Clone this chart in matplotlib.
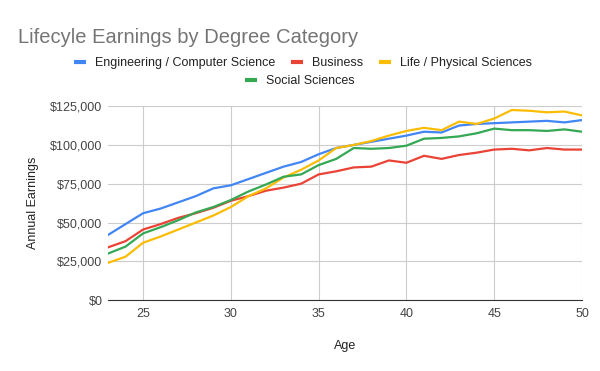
import matplotlib
matplotlib.use("Agg")
import matplotlib.pyplot as plt
from matplotlib.ticker import FuncFormatter
from matplotlib.lines import Line2D

plt.rcParams['font.family'] = ['Liberation Sans', 'DejaVu Sans']

ages = list(range(23, 51))
engineering = [42000, 49000, 56000, 59000, 63000, 67000, 72000, 74000, 78000, 82000,
               86000, 89000, 94000, 98000, 100000, 102000, 104000, 106000, 108500, 108000,
               112500, 113500, 114000, 114500, 115000, 115500, 114500, 116000]
business = [34000, 38000, 45500, 49000, 53000, 56000, 59500, 64000, 67000, 70500,
            72500, 75000, 81000, 83000, 85500, 86000, 90000, 88500, 93000, 91000,
            93500, 95000, 97000, 97500, 96500, 98000, 97000, 97000]
life_phys = [24000, 28000, 37000, 41000, 45500, 50000, 54500, 60000, 67000, 72000,
             79000, 84000, 90000, 98000, 100000, 102500, 106000, 109000, 111000, 109500,
             115000, 113500, 117000, 122500, 122000, 121000, 121500, 119000]
social = [30000, 34500, 43000, 47000, 51500, 56500, 60000, 64500, 70000, 74500,
          79500, 81000, 87000, 91000, 98000, 97500, 98000, 99500, 104000, 104500,
          105500, 107500, 110500, 109500, 109500, 109000, 110000, 108500]

series_names = ["Engineering / Computer Science", "Business", "Life / Physical Sciences", "Social Sciences"]
series_vals = [engineering, business, life_phys, social]
colors = ["#4285F4", "#EA4335", "#FBBC04", "#34A853"]
x_ticks = [25, 30, 35, 40, 45, 50]
y_ticks = [0, 25000, 50000, 75000, 100000, 125000]

fig = plt.figure(figsize=(6, 3.71), dpi=100)
ax = fig.add_axes([0.18, 0.191, 0.79, 0.523])

for name, vals, c in zip(series_names, series_vals, colors):
    ax.plot(ages, vals, color=c, lw=1.6, label=name, solid_joinstyle='round')

ax.set_xlim(23, 50)
ax.set_ylim(0, 125000)
ax.set_xticks(x_ticks)
ax.set_yticks(y_ticks)
ax.yaxis.set_major_formatter(FuncFormatter(lambda v, p: "${:,.0f}".format(v)))
ax.grid(True, color="#cccccc", lw=0.8)
ax.set_axisbelow(True)
for s in ["top", "right", "left"]:
    ax.spines[s].set_visible(False)
ax.spines["bottom"].set_color("#333333")
ax.tick_params(axis="y", length=0, labelsize=9, colors="#444444", pad=4.0)
ax.tick_params(axis="x", length=0, labelsize=9, colors="#444444", pad=6)
ax.set_xlabel("Age", fontsize=9, color="#222222", labelpad=14)
ax.set_ylabel("Annual Earnings", fontsize=9, color="#222222", labelpad=8)

fig.text(0.03, 0.90, "Lifecyle Earnings by Degree Category", fontsize=14.5, color="#757575", va="center")

leg_handles = [Line2D([0], [0], color=c, lw=3, solid_capstyle='butt') for c in colors]
fig.legend(leg_handles[:3], series_names[:3], ncol=3, loc="center",
           bbox_to_anchor=(0.505, 0.829), frameon=False, fontsize=9,
           handlelength=0.95, handletextpad=0.72, columnspacing=1.3, labelcolor="#222222")
fig.legend(leg_handles[3:], series_names[3:], ncol=1, loc="center",
           bbox_to_anchor=(0.5, 0.781), frameon=False, fontsize=9,
           handlelength=0.95, handletextpad=0.72, labelcolor="#222222")

fig.savefig("out.png", dpi=100)
